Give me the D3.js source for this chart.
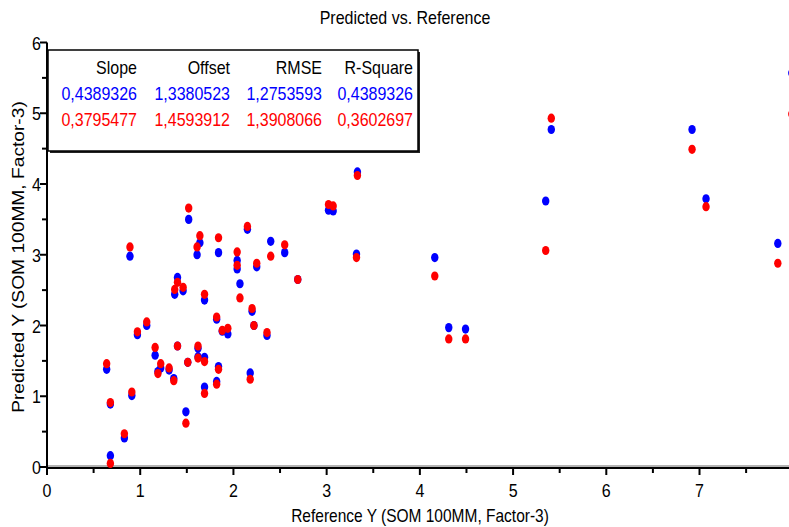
<!DOCTYPE html>
<html>
<head>
<meta charset="utf-8">
<script src="https://d3js.org/d3.v7.min.js"></script>
<style>
	body { margin: 0; background: #fff; }
	svg { display: block; }
	text { font-family: "Liberation Sans", Arial, sans-serif; fill: #000; }
</style>
</head>
<body>
<div id="chart"></div>
<script>

// reference values (x) and the two predicted series
var reference = [0.64,0.68,0.68,0.83,0.89,0.91,0.97,1.07,1.16,1.19,1.22,1.31,1.36,1.37,1.40,1.40,1.46,1.49,1.51,1.52,
	1.61,1.62,1.62,1.64,1.69,1.69,1.69,1.82,1.82,1.84,1.84,1.88,1.94,2.04,2.04,2.07,2.15,2.18,2.20,2.22,
	2.25,2.36,2.40,2.55,2.69,3.02,3.07,3.32,3.33,4.16,4.31,4.49,5.35,5.41,6.92,7.07,7.84,7.99];
var predBlue = [1.38,0.16,0.89,0.41,2.98,1.01,1.87,2.00,1.58,1.35,1.40,1.37,1.25,2.44,2.68,1.71,2.49,0.78,1.48,3.50,
	3.00,1.68,1.56,3.17,1.55,2.36,1.13,1.21,2.09,1.42,3.03,1.92,1.88,2.92,2.80,2.59,3.36,1.33,2.20,2.00,
	2.83,1.86,3.19,3.03,2.65,3.63,3.62,3.01,4.17,2.96,1.97,1.95,3.76,4.77,4.77,3.79,3.16,5.57];
var predRed = [1.46,0.05,0.91,0.47,3.11,1.06,1.91,2.05,1.69,1.32,1.46,1.40,1.22,2.51,2.61,1.71,2.54,0.62,1.48,3.66,
	3.11,1.71,1.54,3.27,1.49,2.44,1.04,1.17,2.12,1.38,3.24,1.93,1.96,3.04,2.85,2.39,3.40,1.24,2.24,2.00,
	2.88,1.90,2.98,3.14,2.65,3.71,3.69,2.96,4.12,2.70,1.81,1.81,3.06,4.93,4.49,3.68,2.88,4.99];

// statistics table
var statHeaders = ["Slope","Offset","RMSE","R-Square"];
var statBlue = ["0,4389326","1,3380523","1,2753593","0,4389326"];
var statRed = ["0,3795477","1,4593912","1,3908066","0,3602697"];

var xTicks = [0,1,2,3,4,5,6,7],
	yTicks = [0,1,2,3,4,5,6];

var width = 789, height = 527,
	stretch = 1.2;	// text in the picture is taller than wide

var svg = d3.select("#chart").append("svg")
	.attr("width", width)
	.attr("height", height);

var xScale = d3.scaleLinear().domain([0,7.96]).range([47,789]);
var yScale = d3.scaleLinear().domain([0,6]).range([467,42.5]);

// helper: horizontal text stretched vertically
function label(x, y, str, anchor, size, color){
	return svg.append("text")
		.attr("transform", "translate("+ x +","+ y +") scale(1,"+ stretch +")")
		.attr("text-anchor", anchor)
		.style("font-size", size +"px")
		.style("fill", color || "#000")
		.text(str);
}

// title
label(405, 24, "Predicted vs. Reference", "middle", 16);

// zero line
svg.append("line")
	.attr("x1", xScale(0)).attr("x2", width)
	.attr("y1", yScale(0)-1).attr("y2", yScale(0)-1)
	.attr("stroke", "#9a9a9a").attr("stroke-width", 1.5);

/*
 *	AXES
 */
var halfX = d3.range(0.5, 8, 1), halfY = d3.range(0.5, 6, 1);

var xAxis = svg.append("g").attr("transform", "translate(0,468)");
xAxis.append("line").attr("x1", xScale(0)-1).attr("x2", width).attr("stroke","#000").attr("stroke-width",2);
xAxis.selectAll("line.major").data(xTicks).enter().append("line")
	.attr("class","major")
	.attr("x1", function(d){ return xScale(d) }).attr("x2", function(d){ return xScale(d) })
	.attr("y1", 0).attr("y2", 7)
	.attr("stroke","#000").attr("stroke-width",2);
xAxis.selectAll("line.minor").data(halfX).enter().append("line")
	.attr("class","minor")
	.attr("x1", function(d){ return xScale(d) }).attr("x2", function(d){ return xScale(d) })
	.attr("y1", 0).attr("y2", 5)
	.attr("stroke","#000").attr("stroke-width",2);
xTicks.forEach(function(d){ label(xScale(d), 497, d, "middle", 16); });

var yAxis = svg.append("g").attr("transform", "translate(47,0)");
yAxis.append("line").attr("y1", yScale(6)).attr("y2", yScale(0)+2).attr("stroke","#000").attr("stroke-width",2);
yAxis.selectAll("line.major").data(yTicks).enter().append("line")
	.attr("class","major")
	.attr("y1", function(d){ return yScale(d) }).attr("y2", function(d){ return yScale(d) })
	.attr("x1", -7).attr("x2", 0)
	.attr("stroke","#000").attr("stroke-width",2);
yAxis.selectAll("line.minor").data(halfY).enter().append("line")
	.attr("class","minor")
	.attr("y1", function(d){ return yScale(d) }).attr("y2", function(d){ return yScale(d) })
	.attr("x1", -5).attr("x2", 0)
	.attr("stroke","#000").attr("stroke-width",2);
yTicks.forEach(function(d){ label(41, yScale(d)+7, d, "end", 16); });

// axis titles
label(420, 522, "Reference Y (SOM 100MM, Factor-3)", "middle", 15.5);
svg.append("text")
	.attr("transform", "translate(24,257) rotate(-90) scale("+ stretch +",1)")
	.attr("text-anchor", "middle")
	.style("font-size", "16px")
	.text("Predicted Y (SOM 100MM, Factor-3)");

/*
 *	POINTS
 */
var points = reference.map(function(x,i){ return {x: x, b: predBlue[i], r: predRed[i]}; });

svg.selectAll("ellipse.blue").data(points).enter().append("ellipse")
	.attr("class","blue")
	.attr("cx", function(d){ return xScale(d.x) })
	.attr("cy", function(d){ return yScale(d.b) })
	.attr("rx", 3.7).attr("ry", 4.6)
	.style("fill", "#0000ff");

svg.selectAll("ellipse.red").data(points).enter().append("ellipse")
	.attr("class","red")
	.attr("cx", function(d){ return xScale(d.x) })
	.attr("cy", function(d){ return yScale(d.r) })
	.attr("rx", 3.7).attr("ry", 4.6)
	.style("fill", "#ff0000");

/*
 *	STATISTICS BOX
 */
svg.append("rect")
	.attr("x", 50).attr("y", 52).attr("width", 370).attr("height", 101)
	.style("fill", "#222");
svg.append("rect")
	.attr("x", 48).attr("y", 50).attr("width", 370).attr("height", 101)
	.style("fill", "#fff").style("stroke", "#000").style("stroke-width", 1.5);

var colRight = [137,230,322,413];
statHeaders.forEach(function(s,i){ label(colRight[i], 74, s, "end", 16); });
statBlue.forEach(function(s,i){ label(colRight[i], 100, s, "end", 16, "#0000ff"); });
statRed.forEach(function(s,i){ label(colRight[i], 125.5, s, "end", 16, "#ff0000"); });

</script>
</body>
</html>
